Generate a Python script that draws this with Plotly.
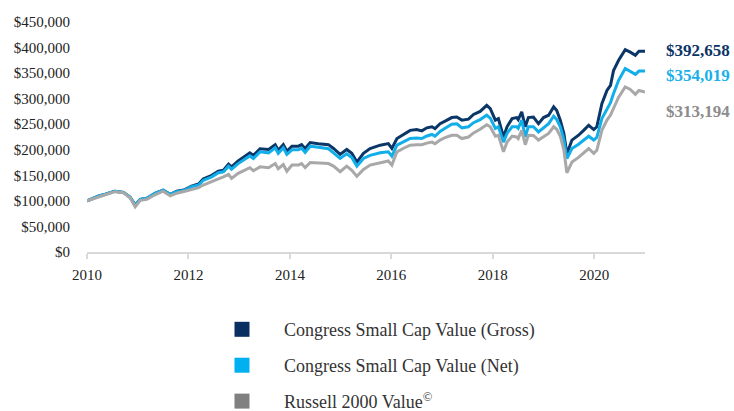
import plotly.graph_objects as go

# fractional years
years = [2010.00, 2010.22, 2010.36, 2010.55, 2010.72, 2010.85, 2010.95, 2011.05, 2011.18, 2011.34,
         2011.50, 2011.64, 2011.77, 2011.93, 2012.06, 2012.20, 2012.29, 2012.46, 2012.59, 2012.69,
         2012.79, 2012.85, 2012.98, 2013.21, 2013.28, 2013.41, 2013.58, 2013.71, 2013.77, 2013.87,
         2013.94, 2014.04, 2014.17, 2014.23, 2014.30, 2014.40, 2014.56, 2014.76, 2014.86, 2014.99,
         2015.12, 2015.22, 2015.32, 2015.45, 2015.58, 2015.78, 2015.94, 2016.01, 2016.11, 2016.24,
         2016.37, 2016.50, 2016.60, 2016.70, 2016.80, 2016.86, 2016.96, 2017.06, 2017.19, 2017.29,
         2017.39, 2017.52, 2017.62, 2017.75, 2017.88, 2017.95, 2018.05, 2018.11, 2018.15, 2018.21,
         2018.28, 2018.38, 2018.47, 2018.50, 2018.57, 2018.64, 2018.70, 2018.80, 2018.90, 2019.00,
         2019.10, 2019.20, 2019.26, 2019.33, 2019.40, 2019.46, 2019.56, 2019.69, 2019.79, 2019.89,
         2019.99, 2020.05, 2020.15, 2020.25, 2020.32, 2020.38, 2020.48, 2020.61, 2020.71, 2020.81,
         2020.88, 2021.00]

gross = [100, 109, 113, 119, 116.6, 107, 92, 103, 105, 114.6,
         121, 113, 119, 122, 129, 133, 142.6, 150, 158, 160,
         172, 166.6, 178, 194, 189, 202, 200.6, 210, 199, 210,
         197, 207, 207, 210, 202.5, 214, 212, 210, 202.5, 191,
         200.6, 193, 176, 193, 202.5, 209, 212, 202.5, 222, 230,
         238, 239.6, 237, 243, 245, 241.6, 251, 256, 263, 264,
         258, 260, 269, 275, 287, 280.6, 258, 261, 248, 225,
         245, 261, 263, 259, 274, 245, 263, 264, 251, 263,
         267.6, 284, 277, 258, 232, 192, 219, 228.5, 238, 248,
         239.6, 245, 290, 316, 326, 355, 375, 396, 391, 385,
         392.6, 392.658]

net = [100, 109, 113, 119, 116.6, 107, 92, 103, 105, 114.6,
       121, 113, 118, 121, 128, 131, 140, 147, 155, 157,
       168, 162, 173, 188, 183, 196, 194, 204, 193, 204,
       191, 200, 200, 203, 195, 207, 205, 202, 194, 183,
       192, 185, 168, 183, 189, 194, 196, 187.5, 209, 216,
       222, 223, 222, 227, 230, 226.5, 236, 242, 250, 251,
       243, 245, 253, 259, 267.6, 262, 241.6, 245, 232, 215,
       232, 245, 245, 242, 258, 225, 245, 245, 235, 244,
       251, 265.6, 259, 245, 220, 183, 202.5, 211, 219, 226.5,
       219, 224, 261, 280.6, 292, 310, 336, 359, 354, 347.6,
       354, 354.019]

russell = [100, 108, 112, 118, 116, 106, 88.5, 101, 103, 112,
           119, 110, 115, 119, 123, 126, 131, 137, 143, 147,
           152, 144, 154, 165, 159, 166.6, 165, 173, 163, 171,
           158, 170, 170, 173, 165, 175, 174, 173, 168, 157,
           168, 160, 148, 161.5, 170, 175, 178, 170, 196, 203,
           209, 210, 210, 213, 215, 212, 219, 224, 228.5, 228.5,
           222, 225, 233, 240, 249, 245, 226.5, 228.5, 215, 196,
           215, 226.5, 225, 222, 238, 210, 228.5, 228, 219, 226,
           232, 245, 240, 226.5, 200, 155, 176, 185, 193, 202.5,
           193, 199, 238, 258, 268, 280.6, 303, 323, 318, 308.6,
           316, 313.194]

series_names = ["Congress Small Cap Value (Gross)",
                "Congress Small Cap Value (Net)",
                "Russell 2000 Value<sup>©</sup>"]
end_labels = ["$392,658", "$354,019", "$313,194"]
y_ticks = [0, 50000, 100000, 150000, 200000, 250000, 300000, 350000, 400000, 450000]
x_ticks = [2010, 2012, 2014, 2016, 2018, 2020]

line_colors = ["#0a3768", "#12aeea", "#a8a8a8"]
legend_colors = ["#0b2f60", "#00b0f0", "#808080"]
label_colors = ["#0b3466", "#1ab0ea", "#8c8c8c"]
label_yshift = [1, -4, -20]

FONT = "Liberation Serif"

fig = go.Figure()
for vals, col in zip([gross, net, russell], line_colors):
    fig.add_trace(go.Scatter(x=years, y=[v * 1000 for v in vals], mode="lines",
                             line=dict(color=col, width=3), showlegend=False,
                             hoverinfo="skip"))

for i, (name, col) in enumerate(zip(series_names, legend_colors)):
    fig.add_trace(go.Scatter(x=[None], y=[None], mode="markers", name=name,
                             legendgroup=f"g{i}",
                             marker=dict(symbol="square", size=15, color=col)))

finals = [gross[-1] * 1000, net[-1] * 1000, russell[-1] * 1000]
for txt, val, col, ys in zip(end_labels, finals, label_colors, label_yshift):
    fig.add_annotation(x=years[-1], y=val, xref="x", yref="y", text=f"<b>{txt}</b>",
                       showarrow=False, xanchor="left", yanchor="middle", xshift=19,
                       yshift=ys, font=dict(family=FONT, size=17, color=col))

fig.update_layout(
    width=734, height=411,
    margin=dict(l=87, r=89, t=22, b=159, autoexpand=False),
    paper_bgcolor="white", plot_bgcolor="white",
    font=dict(family=FONT, size=15, color="#222222"),
    legend=dict(x=0.2025, y=-0.257, xanchor="left", yanchor="top",
                traceorder="grouped", tracegroupgap=9.5, itemwidth=74,
                font=dict(family=FONT, size=18, color="#333333")),
    xaxis=dict(range=[2010, 2021], tickvals=x_ticks, ticktext=[str(t) for t in x_ticks],
               showgrid=False, zeroline=False, showline=True, linecolor="#d9d9d9",
               linewidth=2, ticks="outside", ticklen=5, tickcolor="#d9d9d9",
               tickwidth=1.5, ticklabelstandoff=3, fixedrange=True, automargin=False),
    yaxis=dict(range=[0, 450000], tickvals=y_ticks,
               ticktext=["$" + format(v, ",") for v in y_ticks],
               showgrid=False, zeroline=False, showline=False, ticks="",
               ticklabelstandoff=16, fixedrange=True, automargin=False),
)

fig.write_html("out.html", config={"displayModeBar": False},
               post_script="document.body.style.margin='0px';document.body.style.overflow='hidden';")
